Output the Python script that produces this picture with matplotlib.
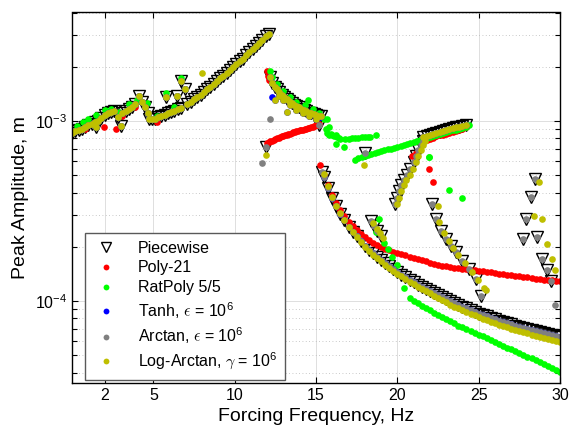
import numpy as np
import matplotlib
matplotlib.use('Agg')
import matplotlib.pyplot as plt
from matplotlib.ticker import LogLocator, NullFormatter, FixedLocator

plt.rcParams['font.family'] = ['Liberation Sans', 'DejaVu Sans']
plt.rcParams['mathtext.fontset'] = 'cm'

# ---------------- data (Hz, m) ----------------
# low-frequency wiggly region (piecewise)
low_f = [0.0, 0.2, 0.4, 0.6, 0.8, 1.0, 1.2, 1.4, 1.45, 1.6, 1.8, 2.0, 2.2, 2.4, 2.6, 2.8, 3.0,
         3.1, 3.3, 3.5, 3.7, 3.9, 4.1, 4.3, 4.5, 4.7, 4.75, 4.9, 5.1, 5.3, 5.5, 5.7, 5.9, 6.1,
         6.3, 6.5, 6.7, 5.75, 6.45, 6.7, 6.95]
low_a = [8.6e-4, 8.75e-4, 8.9e-4, 9.05e-4, 9.25e-4, 9.45e-4, 9.65e-4, 9.85e-4, 9.26e-4, 1.0e-3,
         1.04e-3, 1.08e-3, 1.1e-3, 1.12e-3, 1.14e-3, 1.05e-3, 9.4e-4, 1.1e-3, 1.14e-3, 1.17e-3,
         1.2e-3, 1.24e-3, 1.38e-3, 1.28e-3, 1.2e-3, 1.1e-3, 1.03e-3, 1.02e-3, 1.03e-3, 1.045e-3,
         1.06e-3, 1.08e-3, 1.1e-3, 1.12e-3, 1.14e-3, 1.16e-3, 1.18e-3, 1.35e-3, 1.38e-3, 1.67e-3,
         1.5e-3]
gr_low_f = [0.3, 0.7, 1.0, 1.5, 2.0, 2.4, 2.9, 3.5, 4.0, 4.6, 5.2, 5.75, 6.3, 6.7]
gr_low_a = [9.4e-4, 9.8e-4, 1.02e-3, 1.08e-3, 1.15e-3, 1.17e-3, 1.12e-3, 1.24e-3, 1.3e-3,
            1.25e-3, 1.07e-3, 1.42e-3, 1.2e-3, 1.72e-3]
rd_low_f = [0.8, 1.96, 2.7, 3.1, 3.9, 5.2]
rd_low_a = [9.0e-4, 9.26e-4, 9.0e-4, 1.06e-3, 1.2e-3, 9.8e-4]

# rising resonance branch 7-12 Hz
rise_a = [1.24e-3, 1.28e-3, 1.32e-3, 1.36e-3, 1.40e-3, 1.45e-3, 1.50e-3, 1.55e-3, 1.60e-3,
          1.66e-3, 1.72e-3, 1.78e-3, 1.85e-3, 1.92e-3, 1.99e-3, 2.06e-3, 2.14e-3, 2.22e-3,
          2.31e-3, 2.40e-3, 2.50e-3, 2.60e-3, 2.71e-3, 2.83e-3, 2.95e-3, 3.04e-3]
rise_f = np.linspace(7.1, 12.1, len(rise_a))

# decaying cluster after the jump, 12-15.3 Hz
drop_a = [1.75e-3, 1.62e-3, 1.55e-3, 1.50e-3, 1.45e-3, 1.40e-3, 1.36e-3, 1.32e-3, 1.29e-3,
          1.26e-3, 1.23e-3, 1.21e-3, 1.19e-3, 1.17e-3, 1.15e-3, 1.13e-3, 1.11e-3, 1.10e-3,
          1.09e-3, 1.08e-3, 1.07e-3, 1.06e-3]
drop_f = np.linspace(12.15, 15.3, len(drop_a))
drop_hi_f = [12.0, 12.05, 12.1, 12.15, 12.3, 12.6, 13.0, 13.4, 13.8, 14.3, 14.5, 14.8, 15.2, 15.5, 15.7]
drop_hi_a = [1.9e-3, 1.78e-3, 1.68e-3, 1.9e-3, 1.75e-3, 1.6e-3, 1.47e-3, 1.36e-3, 1.28e-3,
             1.22e-3, 1.3e-3, 1.16e-3, 1.1e-3, 1.02e-3, 1.03e-3]
drop_lo_f = [12.3, 12.5, 12.7, 13.0, 13.2, 13.4, 13.8, 14.2, 14.6, 15.0, 15.25]
drop_lo_a = [1.36e-3, 1.3e-3, 1.38e-3, 1.3e-3, 1.12e-3, 1.22e-3, 1.15e-3, 1.1e-3, 1.06e-3,
             1.03e-3, 1.05e-3]

# Poly-21 lower branch 12-15.2 Hz
rd_low2_a = [7.5e-4, 7.6e-4, 7.7e-4, 7.75e-4, 7.85e-4, 7.95e-4, 8.0e-4, 8.08e-4, 8.15e-4, 8.2e-4,
             8.28e-4, 8.35e-4, 8.4e-4, 8.45e-4, 8.5e-4, 8.56e-4, 8.62e-4, 8.68e-4, 8.74e-4, 8.8e-4,
             8.85e-4, 8.9e-4, 8.95e-4, 9.0e-4, 9.05e-4, 9.1e-4, 9.17e-4, 9.24e-4, 9.3e-4, 9.37e-4,
             9.43e-4, 9.5e-4, 9.56e-4]
rd_low2_f = np.linspace(12.0, 15.2, len(rd_low2_a))

# main decaying tail 15.5-30 Hz
tail_f = np.arange(15.5, 30.01, 0.25)
pw_tail_a = [4.85e-4, 4.25e-4, 3.75e-4, 3.35e-4, 3.05e-4, 2.8e-4, 2.58e-4, 2.42e-4, 2.28e-4, 2.15e-4,
             2.03e-4, 1.93e-4, 1.84e-4, 1.76e-4, 1.69e-4, 1.62e-4, 1.56e-4, 1.50e-4, 1.45e-4, 1.40e-4,
             1.35e-4, 1.31e-4, 1.27e-4, 1.23e-4, 1.20e-4, 1.17e-4, 1.14e-4, 1.11e-4, 1.08e-4, 1.05e-4,
             1.02e-4, 9.95e-5, 9.7e-5, 9.5e-5, 9.3e-5, 9.1e-5, 8.9e-5, 8.7e-5, 8.5e-5, 8.35e-5,
             8.2e-5, 8.05e-5, 7.9e-5, 7.75e-5, 7.6e-5, 7.5e-5, 7.4e-5, 7.3e-5, 7.2e-5, 7.1e-5,
             7.0e-5, 6.9e-5, 6.8e-5, 6.7e-5, 6.6e-5, 6.52e-5, 6.44e-5, 6.36e-5, 6.28e-5]
la_tail_a = [5.1e-4, 4.35e-4, 3.8e-4, 3.38e-4, 3.07e-4, 2.8e-4, 2.57e-4, 2.41e-4, 2.26e-4, 2.13e-4,
             2.0e-4, 1.9e-4, 1.81e-4, 1.73e-4, 1.66e-4, 1.59e-4, 1.53e-4, 1.47e-4, 1.42e-4, 1.37e-4,
             1.32e-4, 1.28e-4, 1.24e-4, 1.2e-4, 1.16e-4, 1.13e-4, 1.10e-4, 1.07e-4, 1.04e-4, 1.01e-4,
             9.8e-5, 9.55e-5, 9.3e-5, 9.1e-5, 8.9e-5, 8.7e-5, 8.5e-5, 8.3e-5, 8.1e-5, 7.95e-5,
             7.8e-5, 7.65e-5, 7.5e-5, 7.37e-5, 7.23e-5, 7.12e-5, 7.0e-5, 6.9e-5, 6.8e-5, 6.7e-5,
             6.6e-5, 6.5e-5, 6.4e-5, 6.3e-5, 6.2e-5, 6.12e-5, 6.04e-5, 5.96e-5, 5.9e-5]
rd_tail_f = np.arange(15.25, 30.01, 0.25)
rd_tail_a = [5.7e-4, 5.0e-4, 4.4e-4, 3.9e-4, 3.5e-4, 3.2e-4, 2.95e-4, 2.75e-4, 2.6e-4, 2.47e-4,
             2.36e-4, 2.26e-4, 2.18e-4, 2.1e-4, 2.04e-4, 1.99e-4, 1.95e-4, 1.91e-4, 1.88e-4, 1.85e-4,
             1.82e-4, 1.79e-4, 1.76e-4, 1.73e-4, 1.71e-4, 1.68e-4, 1.66e-4, 1.63e-4, 1.61e-4, 1.59e-4,
             1.57e-4, 1.56e-4, 1.54e-4, 1.53e-4, 1.52e-4, 1.51e-4, 1.5e-4, 1.49e-4, 1.48e-4, 1.47e-4,
             1.46e-4, 1.45e-4, 1.44e-4, 1.43e-4, 1.42e-4, 1.41e-4, 1.40e-4, 1.39e-4, 1.38e-4, 1.37e-4,
             1.36e-4, 1.35e-4, 1.34e-4, 1.33e-4, 1.32e-4, 1.315e-4, 1.31e-4, 1.30e-4, 1.29e-4, 1.285e-4]
gr_tail_f = np.arange(20.75, 30.01, 0.25)
gr_tail_a = [1.04e-4, 1.0e-4, 9.7e-5, 9.4e-5, 9.1e-5, 8.85e-5, 8.6e-5, 8.35e-5, 8.1e-5, 7.9e-5,
             7.7e-5, 7.5e-5, 7.3e-5, 7.15e-5, 7.0e-5, 6.8e-5, 6.65e-5, 6.5e-5, 6.35e-5, 6.2e-5,
             6.05e-5, 5.9e-5, 5.78e-5, 5.65e-5, 5.5e-5, 5.38e-5, 5.25e-5, 5.13e-5, 5.02e-5, 4.9e-5,
             4.8e-5, 4.7e-5, 4.6e-5, 4.45e-5, 4.35e-5, 4.25e-5, 4.15e-5, 4.05e-5]

# RatPoly middle cluster and rising line
gr_mid_f = [15.6, 15.7, 15.8, 15.9, 16.0, 16.1, 16.2, 16.3, 16.4, 16.5, 16.2, 16.7, 16.8, 17.0,
            17.2, 17.4, 17.6, 17.8, 18.0, 18.2, 18.3, 18.7, 15.8]
gr_mid_a = [9.0e-4, 8.6e-4, 8.4e-4, 8.5e-4, 8.3e-4, 8.2e-4, 8.35e-4, 8.1e-4, 8.0e-4, 7.9e-4,
            7.48e-4, 7.2e-4, 7.9e-4, 7.95e-4, 8.0e-4, 8.0e-4, 8.05e-4, 8.1e-4, 8.1e-4, 8.15e-4,
            8.15e-4, 8.35e-4, 9.3e-4]
gr_line_a = [6.1e-4, 6.2e-4, 6.3e-4, 6.38e-4, 6.46e-4, 6.54e-4, 6.62e-4, 6.7e-4, 6.78e-4, 6.86e-4,
             6.94e-4, 7.02e-4, 7.1e-4, 7.18e-4, 7.27e-4, 7.36e-4, 7.45e-4, 7.54e-4, 7.63e-4, 7.72e-4,
             7.82e-4, 7.92e-4, 8.05e-4, 8.15e-4, 8.25e-4, 8.35e-4, 8.45e-4, 8.55e-4, 8.65e-4, 8.75e-4,
             8.85e-4, 8.95e-4, 9.05e-4, 9.15e-4, 9.3e-4, 9.5e-4]
gr_line_f = np.linspace(17.4, 24.4, len(gr_line_a))
gr_misc_f = [18.9, 18.7, 19.2, 19.45, 19.7, 19.95, 20.4, 21.96, 23.2, 23.95, 21.96]
gr_misc_a = [2.84e-4, 2.4e-4, 2.1e-4, 1.94e-4, 1.76e-4, 1.58e-4, 1.18e-4, 6.33e-4, 4.13e-4,
             3.74e-4, 6.3e-4]

# upper branch 21.6-24.2 Hz
c_a = [8.1e-4, 8.25e-4, 8.4e-4, 8.5e-4, 8.6e-4, 8.7e-4, 8.8e-4, 8.9e-4, 9.0e-4, 9.1e-4, 9.2e-4,
       9.3e-4, 9.4e-4, 9.5e-4]
c_f = np.linspace(21.6, 24.2, len(c_a))
rd_c_a = [7.6e-4, 7.8e-4, 7.95e-4, 8.08e-4, 8.2e-4, 8.3e-4, 8.4e-4, 8.5e-4, 8.6e-4, 8.7e-4,
          8.8e-4, 8.9e-4, 9.0e-4, 9.2e-4]

# steep rising branch 19.9-21.6 Hz
d_f = [19.85, 19.95, 20.1, 20.25, 20.4, 20.6, 20.8, 21.0, 21.15, 21.3, 21.45, 21.55]
d_a = [3.45e-4, 3.75e-4, 4.1e-4, 4.4e-4, 4.7e-4, 5.0e-4, 5.4e-4, 5.9e-4, 6.4e-4, 6.9e-4,
       7.3e-4, 7.7e-4]
la_d_f = [20.0, 20.1, 20.25, 20.4, 20.55, 20.75, 20.95, 21.15, 21.3, 21.45, 21.6, 21.7]
rd_d_f = [20.93, 21.15, 21.96, 22.2]
rd_d_a = [6.4e-4, 6.6e-4, 5.4e-4, 4.55e-4]

# falling branch 22-25.2 Hz
e_f = [22.16, 22.37, 22.68, 22.98, 23.3, 23.6, 24.0, 24.4, 24.83, 25.14]
e_a = [3.45e-4, 2.84e-4, 2.45e-4, 2.2e-4, 2.02e-4, 1.86e-4, 1.67e-4, 1.5e-4, 1.32e-4, 1.07e-4]
la_e_f = [22.47, 22.55, 22.85, 23.15, 23.45, 23.75, 24.15, 24.6, 24.95, 25.3, 25.45]
la_e_a = [3.35e-4, 2.75e-4, 2.38e-4, 2.15e-4, 1.97e-4, 1.8e-4, 1.62e-4, 1.45e-4, 1.3e-4,
          1.18e-4, 1.15e-4]

# branch near 28-29.5 Hz
g_f = [28.45, 28.2, 27.9, 27.7, 28.6, 28.9, 29.2, 29.45]
g_a = [4.75e-4, 3.8e-4, 2.85e-4, 2.2e-4, 2.27e-4, 1.7e-4, 1.49e-4, 1.29e-4]
la_g_f = [28.7, 28.4, 28.9, 29.2, 29.5, 29.7]
la_g_a = [4.6e-4, 2.97e-4, 2.85e-4, 2.07e-4, 1.7e-4, 1.49e-4]

# isolated points
pw_misc_f = [11.9, 18.0, 15.35, 15.2, 18.37, 18.57, 18.78, 18.98]
pw_misc_a = [7.2e-4, 6.6e-4, 5.2e-4, 9.5e-4, 2.78e-4, 2.61e-4, 2.45e-4, 2.3e-4]
la_misc_f = [8.0, 11.9, 17.96, 18.5, 18.72, 18.92, 19.1]
la_misc_a = [1.85e-3, 6.5e-4, 5.7e-4, 2.7e-4, 2.5e-4, 2.38e-4, 2.25e-4]
ar_misc_f = [11.7, 12.2, 29.7]
ar_misc_a = [5.85e-4, 1.03e-3, 9.5e-5]


def cat(*parts):
    return np.concatenate([np.asarray(p, dtype=float) for p in parts])


pw_f = cat(low_f, rise_f, drop_f, tail_f, c_f, d_f, e_f, g_f, pw_misc_f)
pw_a = cat(low_a, rise_a, drop_a, pw_tail_a, c_a, d_a, e_a, g_a, pw_misc_a)
rd_f = cat(low_f, rd_low_f, rise_f, drop_f, drop_hi_f[:3], rd_low2_f, rd_tail_f, c_f, rd_d_f)
rd_a = cat(low_a, rd_low_a, rise_a, drop_a, drop_hi_a[:3], rd_low2_a, rd_tail_a, rd_c_a, rd_d_a)
gr_f = cat(low_f, gr_low_f, rise_f, drop_f, drop_hi_f[3:], gr_mid_f, gr_line_f, gr_tail_f, gr_misc_f)
gr_a = cat(low_a, gr_low_a, rise_a, drop_a, drop_hi_a[3:], gr_mid_a, gr_line_a, gr_tail_a, gr_misc_a)
th_f = cat(low_f, rise_f, drop_f, drop_lo_f, tail_f, c_f)
th_a = cat(low_a, rise_a, drop_a, drop_lo_a, pw_tail_a, c_a)
ar_f = cat(pw_f, ar_misc_f)
ar_a = cat(pw_a, ar_misc_a)
la_f = cat(low_f, rise_f, drop_f, drop_lo_f[1:-1], tail_f, c_f, la_d_f, la_e_f, la_g_f, la_misc_f)
la_a = cat(low_a, rise_a, drop_a, drop_lo_a[1:-1], la_tail_a, c_a, d_a, la_e_a, la_g_a, la_misc_a)

fig = plt.figure(figsize=(5.69, 4.48), dpi=100)
ax = fig.add_axes([72 / 569, 1 - 383 / 448, 488 / 569, 370.5 / 448])

ax.plot(pw_f, pw_a, 'v', ms=8.5, mfc='none', mec='k', mew=1.0, label='Piecewise')
ms = 4.8
ax.plot(rd_f, rd_a, 'o', ms=ms, color=(1, 0, 0), mec='none', label='Poly-21')
ax.plot(gr_f, gr_a, 'o', ms=ms, color=(0, 1, 0), mec='none', label='RatPoly 5/5')
ax.plot(th_f, th_a, 'o', ms=ms, color=(0, 0, 1), mec='none',
        label=r'Tanh, $\epsilon$ = $\mathdefault{10^6}$')
ax.plot(ar_f, ar_a, 'o', ms=ms, color=(0.5, 0.5, 0.5), mec='none',
        label=r'Arctan, $\epsilon$ = $\mathdefault{10^6}$')
ax.plot(la_f, la_a, 'o', ms=ms, color=(0.75, 0.75, 0), mec='none',
        label=r'Log-Arctan, $\gamma$ = $\mathdefault{10^6}$')

ax.set_yscale('log')
ax.set_xlim(0, 30)
ax.set_ylim(3.5e-5, 4e-3)
ax.xaxis.set_major_locator(FixedLocator([2, 5, 10, 15, 20, 25, 30]))
ax.yaxis.set_major_locator(LogLocator(base=10))
ax.yaxis.set_minor_locator(LogLocator(base=10, subs=np.arange(2, 10)))
ax.yaxis.set_minor_formatter(NullFormatter())

ax.set_axisbelow(True)
ax.grid(which='major', color='0.87', lw=0.7, ls='-')
ax.yaxis.grid(which='minor', color='0.72', lw=0.6, ls=(0, (1, 3)))

ax.tick_params(which='both', direction='in', top=True, right=True, width=0.8, labelsize=11.5)
ax.tick_params(which='major', length=4.5)
ax.tick_params(which='minor', length=3.5)
for s in ax.spines.values():
    s.set_linewidth(1.0)

ax.set_xlabel('Forcing Frequency, Hz', fontsize=14)
ax.set_ylabel('Peak Amplitude, m', fontsize=14)

leg = ax.legend(loc='lower left', bbox_to_anchor=(0.027, 0.008), fontsize=11.5, frameon=True,
                fancybox=False, edgecolor='0.35', framealpha=1, borderpad=0.5,
                labelspacing=0.3, handlelength=1.6, handletextpad=1.2, borderaxespad=0)
leg.get_frame().set_linewidth(1.0)
leg.legend_handles[0].set_markersize(7)
for h in leg.legend_handles[1:]:
    h.set_markersize(4.2)

fig.savefig('out.png', dpi=100)
